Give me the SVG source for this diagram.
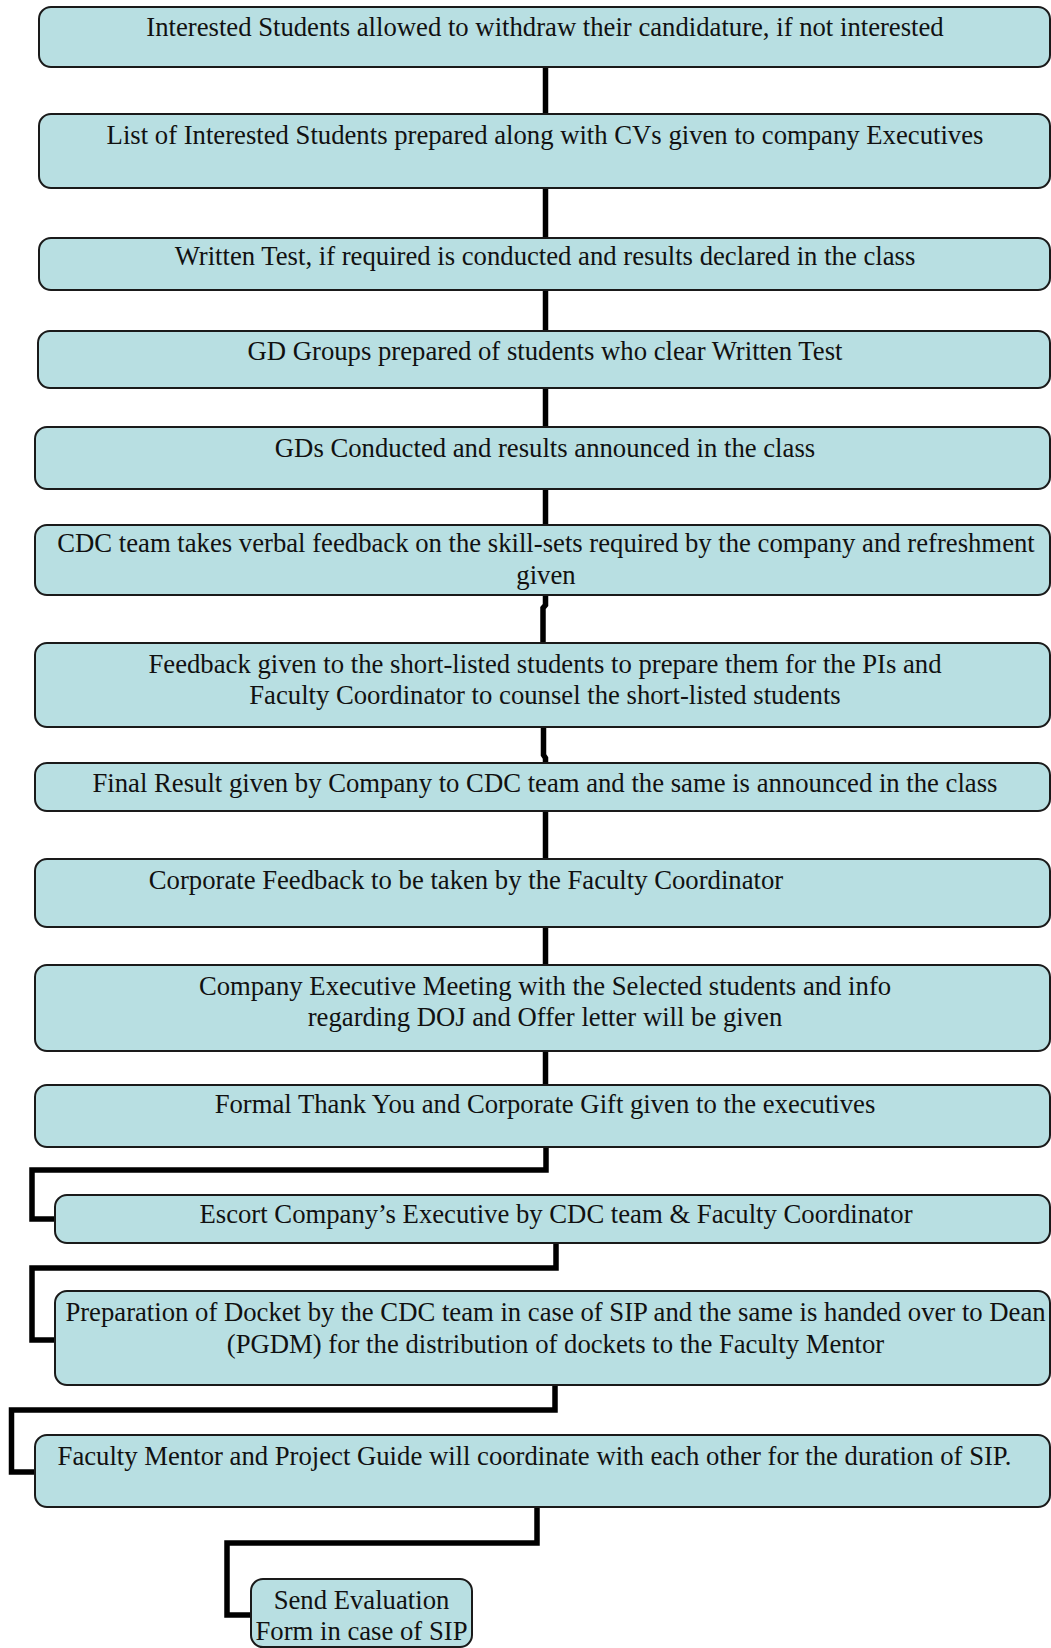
<svg xmlns="http://www.w3.org/2000/svg" width="1051" height="1648" viewBox="0 0 1051 1648">
<defs>
<style>
.box{fill:#b8dfe2;stroke:#1a1a1a;stroke-width:2}
.t{font-family:"Liberation Serif","Times New Roman",serif;font-size:26.7px;fill:#111;text-anchor:middle}
.c{fill:none;stroke:#000;stroke-width:5.5;stroke-linejoin:miter}
</style>
</defs>
<rect width="1051" height="1648" fill="#fff"/>
<g id="connectors">
<path class="c" d="M545.5,67 V114"/>
<path class="c" d="M545.5,188 V238"/>
<path class="c" d="M545.5,290 V331"/>
<path class="c" d="M545.5,388 V427"/>
<path class="c" d="M545.5,489 V525"/>
<path class="c" d="M545.5,595 V605 L543,608 V643"/>
<path class="c" d="M543.5,727 V755 L545.5,758 V763"/>
<path class="c" d="M545.5,811 V859"/>
<path class="c" d="M545.5,927 V965"/>
<path class="c" d="M545.5,1051 V1085"/>
<path class="c" d="M546,1147 V1170 H32 V1219 H55"/>
<path class="c" d="M556,1243 V1268 H32 V1340 H55"/>
<path class="c" d="M555,1385 V1410 H11.5 V1472 H35"/>
<path class="c" d="M537,1507 V1543 H227 V1615 H251"/>
</g>
<g id="n1"><rect class="box" x="39" y="7" width="1011" height="60" rx="12"/><text class="t" x="545" y="36">Interested Students allowed to withdraw their candidature, if not interested</text></g>
<g id="n2"><rect class="box" x="39" y="114" width="1011" height="74" rx="12"/><text class="t" x="545" y="144">List of Interested Students prepared along with CVs given to company Executives</text></g>
<g id="n3"><rect class="box" x="39" y="238" width="1011" height="52" rx="12"/><text class="t" x="545" y="265">Written Test, if required is conducted and results declared in the class</text></g>
<g id="n4"><rect class="box" x="38" y="331" width="1012" height="57" rx="12"/><text class="t" x="545" y="360">GD Groups prepared of students who clear Written Test</text></g>
<g id="n5"><rect class="box" x="35" y="427" width="1015" height="62" rx="12"/><text class="t" x="545" y="457">GDs Conducted and results announced in the class</text></g>
<g id="n6"><rect class="box" x="35" y="525" width="1015" height="70" rx="12"/><text class="t" x="546" y="552">CDC team takes verbal feedback on the skill-sets required by the company and refreshment</text><text class="t" x="546" y="584">given</text></g>
<g id="n7"><rect class="box" x="35" y="643" width="1015" height="84" rx="12"/><text class="t" x="545" y="673">Feedback given to the short-listed students to prepare them for the PIs and</text><text class="t" x="545" y="704">Faculty Coordinator to counsel the short-listed students</text></g>
<g id="n8"><rect class="box" x="35" y="763" width="1015" height="48" rx="12"/><text class="t" x="545" y="792">Final Result given by Company to CDC team and the same is announced in the class</text></g>
<g id="n9"><rect class="box" x="35" y="859" width="1015" height="68" rx="12"/><text class="t" x="466" y="889">Corporate Feedback to be taken by the Faculty Coordinator</text></g>
<g id="n10"><rect class="box" x="35" y="965" width="1015" height="86" rx="12"/><text class="t" x="545" y="995">Company Executive Meeting with the Selected students and info</text><text class="t" x="545" y="1026">regarding DOJ and Offer letter will be given</text></g>
<g id="n11"><rect class="box" x="35" y="1085" width="1015" height="62" rx="12"/><text class="t" x="545" y="1113">Formal Thank You and Corporate Gift given to the executives</text></g>
<g id="n12"><rect class="box" x="55" y="1195" width="995" height="48" rx="12"/><text class="t" x="556" y="1223">Escort Company’s Executive by CDC team &amp; Faculty Coordinator</text></g>
<g id="n13"><rect class="box" x="55" y="1291" width="995" height="94" rx="12"/><text class="t" x="555.5" y="1321">Preparation of Docket by the CDC team in case of SIP and the same is handed over to Dean</text><text class="t" x="555.5" y="1353">(PGDM) for the distribution of dockets to the Faculty Mentor</text></g>
<g id="n14"><rect class="box" x="35" y="1435" width="1015" height="72" rx="12"/><text class="t" x="534.5" y="1465">Faculty Mentor and Project Guide will coordinate with each other for the duration of SIP.</text></g>
<g id="n15"><rect class="box" x="251" y="1579" width="221" height="68" rx="12"/><text class="t" x="361.5" y="1609">Send Evaluation</text><text class="t" x="361.5" y="1640">Form in case of SIP</text></g>
</svg>
